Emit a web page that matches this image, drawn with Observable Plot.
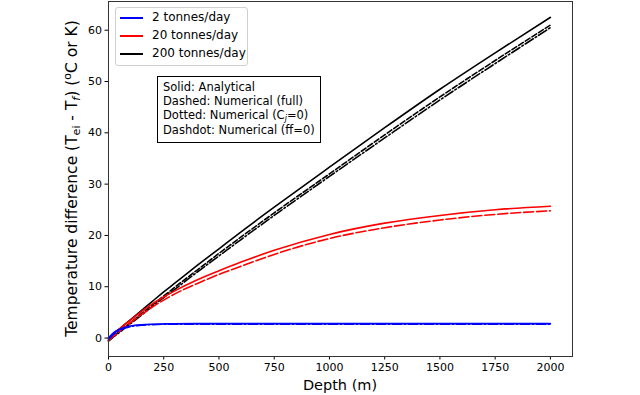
<!DOCTYPE html>
<html>
<head>
<meta charset="utf-8">
<script src="https://cdn.jsdelivr.net/npm/d3@7"></script>
<script src="https://cdn.jsdelivr.net/npm/@observablehq/plot@0.6"></script>
<style>
  html, body { margin: 0; padding: 0; background: #fff; }
  #wrap { position: relative; width: 640px; height: 395px; overflow: hidden; font-family: "DejaVu Sans", sans-serif; }
  .box { position: absolute; box-sizing: border-box; background: #fff; color: #000; }
  .row { position: absolute; white-space: nowrap; line-height: 14px; }
  .row sub { font-size: 8px; line-height: 0; font-style: italic; vertical-align: -2px; }
  .sw { position: absolute; height: 2px; width: 23px; }
</style>
</head>
<body>
<div id="wrap"></div>
<script>
// ---- data ----
const depth = [0, 25, 50, 75, 100, 150, 200, 250, 300, 400, 500, 600, 750, 1000, 1250, 1500, 1750, 2000];
const blueSolid  = [0, 1.1, 1.7, 2.1, 2.35, 2.6, 2.7, 2.75, 2.78, 2.8, 2.8, 2.8, 2.8, 2.8, 2.8, 2.8, 2.8, 2.8];
const blueDashed = [-0.3, 0.8, 1.5, 1.95, 2.25, 2.5, 2.62, 2.68, 2.7, 2.72, 2.72, 2.72, 2.72, 2.72, 2.72, 2.72, 2.72, 2.72];
const redSolid   = [0, 0.9, 1.8, 2.7, 3.5, 5.2, 6.7, 8.0, 9.2, 11.3, 13.1, 14.8, 17.1, 20.2, 22.4, 23.9, 25.0, 25.7];
const redDashed  = [-0.5, 0.4, 1.3, 2.2, 3.0, 4.6, 6.1, 7.4, 8.6, 10.6, 12.4, 14.0, 16.3, 19.4, 21.5, 23.0, 24.1, 24.8];
const blackSolid = [0, 0.9, 1.8, 2.7, 3.6, 5.4, 7.2, 9.0, 10.7, 14.1, 17.4, 20.7, 25.5, 33.3, 41.0, 48.5, 55.6, 62.5];
const blackDashed  = [-0.5, 0.4, 1.3, 2.2, 3.0, 4.8, 6.5, 8.2, 9.9, 13.2, 16.5, 19.7, 24.4, 32.0, 39.6, 47.0, 54.1, 61.0];
const blackDashdot = [-0.6, 0.3, 1.1, 2.0, 2.8, 4.5, 6.2, 7.9, 9.5, 12.8, 16.0, 19.2, 23.9, 31.5, 39.0, 46.4, 53.5, 60.5];

const xTicks = [0, 250, 500, 750, 1000, 1250, 1500, 1750, 2000];
const yTicks = [0, 10, 20, 30, 40, 50, 60];

const seriesNames = ["2 tonnes/day", "20 tonnes/day", "200 tonnes/day"];
const seriesColors = ["#0000ff", "#ff0000", "#000000"];
const noteLines = ["Solid: Analytical", "Dashed: Numerical (full)", "Dotted: Numerical (C<sub>j</sub>=0)", "Dashdot: Numerical (ff=0)"];

// ---- build ----
const toRows = (vals) => depth.map((d, i) => ({depth: d, t: vals[i]}));
const line = (vals, color, dash) => Plot.line(toRows(vals), {
  x: "depth", y: "t", stroke: color, strokeWidth: 1.6,
  strokeDasharray: dash, curve: "monotone-x"
});

const chart = Plot.plot({
  width: 640,
  height: 395,
  marginLeft: 108,
  marginRight: 68,
  marginTop: 1,
  marginBottom: 39,
  style: {fontFamily: "DejaVu Sans, sans-serif", fontSize: "11px", color: "#000", background: "#fff"},
  x: {domain: [0, 2100], ticks: xTicks, tickSize: 3.5, tickPadding: 3, label: null, tickFormat: d => String(d)},
  y: {domain: [-3.6, 65.6], ticks: yTicks, tickSize: 3.5, tickPadding: 3, label: null, tickFormat: d => String(d)},
  marks: [
    line(blackDashdot, seriesColors[2], "9.6,2.4,1.6,2.4"),
    line(blackDashed, seriesColors[2], "5.5,2.4"),
    line(blackSolid, seriesColors[2], null),
    line(redDashed, seriesColors[1], "10,3"),
    line(redSolid, seriesColors[1], null),
    line(blueSolid, seriesColors[0], null),
    line(blueDashed, seriesColors[0], "9.6,2.4,1.6,2.4"),
    Plot.frame({stroke: "#333", strokeWidth: 1})
  ]
});

const wrap = document.getElementById("wrap");
wrap.appendChild(chart);

// Axis labels (with sub/superscripts for the y label)
const svg = d3.select(chart);
svg.append("text")
  .attr("x", 340).attr("y", 390)
  .attr("text-anchor", "middle")
  .attr("font-size", 14.5)
  .attr("fill", "#000")
  .text("Depth (m)");

const yl = svg.append("text")
  .attr("transform", "translate(77,178.5) rotate(-90)")
  .attr("text-anchor", "middle")
  .attr("font-size", 15.5)
  .attr("fill", "#000");
yl.append("tspan").text("Temperature difference (T");
yl.append("tspan").attr("font-size", 11).attr("dy", 3).text("ei");
yl.append("tspan").attr("dy", -3).text(" - T");
yl.append("tspan").attr("font-size", 11).attr("dy", 3).attr("font-style", "italic").text("f");
yl.append("tspan").attr("dy", -3).text(") (");
yl.append("tspan").attr("font-size", 11).attr("dy", -6).text("o");
yl.append("tspan").attr("dy", 6).text("C or K)");

// Series legend
const leg = document.createElement("div");
leg.className = "box";
Object.assign(leg.style, {left: "115px", top: "7px", width: "133px", height: "59px", border: "1px solid #d0d0d0", borderRadius: "3px", fontSize: "12px"});
seriesNames.forEach((name, i) => {
  const sw = document.createElement("div");
  sw.className = "sw";
  Object.assign(sw.style, {left: "4px", top: (9 + i * 18) + "px", background: seriesColors[i]});
  leg.appendChild(sw);
  const t = document.createElement("div");
  t.className = "row";
  Object.assign(t.style, {left: "36px", top: (2 + i * 18) + "px"});
  t.textContent = name;
  leg.appendChild(t);
});
wrap.appendChild(leg);

// Line-style note box
const note = document.createElement("div");
note.className = "box";
Object.assign(note.style, {left: "157px", top: "76px", width: "164px", height: "67px", border: "1px solid #000", fontSize: "11.5px"});
const noteTops = [3, 17, 31, 46];
noteLines.forEach((txt, i) => {
  const t = document.createElement("div");
  t.className = "row";
  Object.assign(t.style, {left: "5px", top: noteTops[i] + "px"});
  t.innerHTML = txt;
  note.appendChild(t);
});
wrap.appendChild(note);
</script>
</body>
</html>
